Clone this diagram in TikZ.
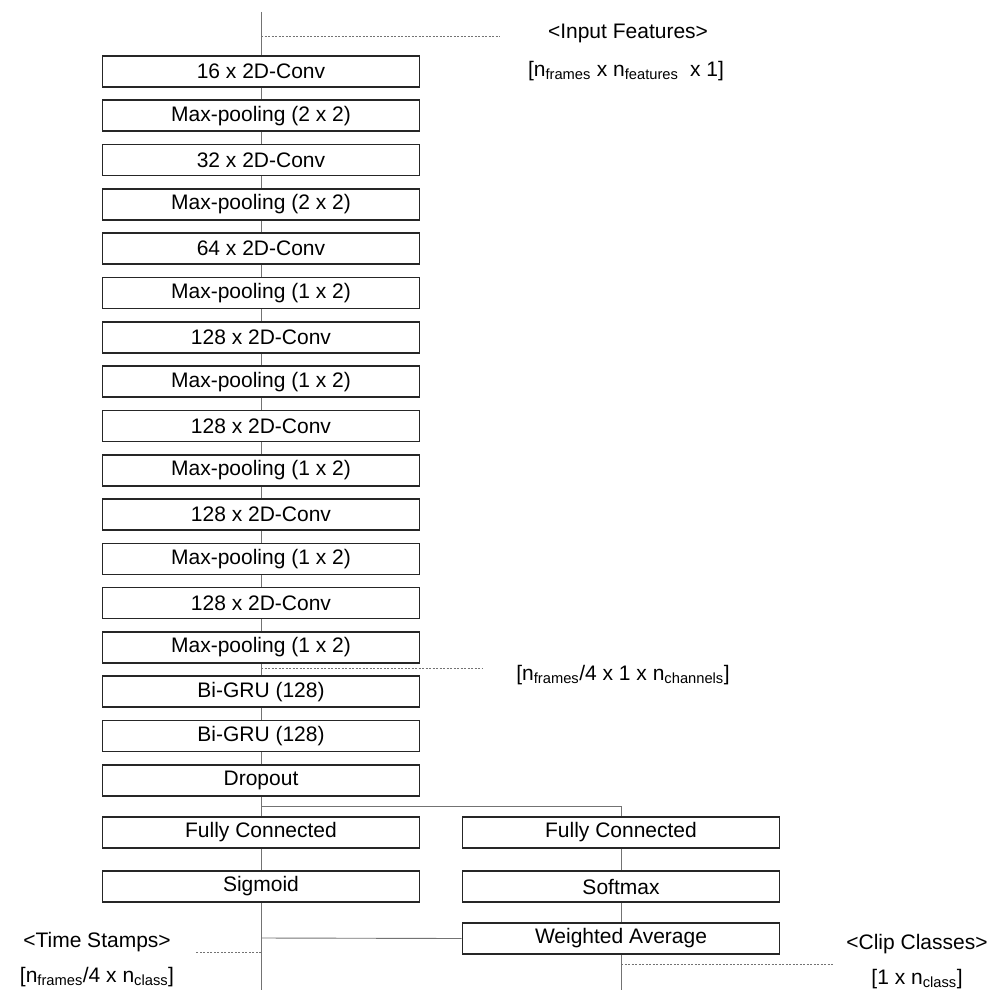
\documentclass[tikz,border=0pt]{standalone}
\usepackage{fontspec}
\setmainfont{Liberation Sans}
\begin{document}
\begin{tikzpicture}[x=1pt,y=-1pt,
  blk/.style={draw=black!85,line width=1.6pt,minimum width=317pt,minimum height=31pt,inner sep=0pt,font=\fontsize{21}{24}\selectfont,fill=white},
  conn/.style={draw=black!55,line width=0.9pt},
  dsh/.style={draw=black!55,line width=0.9pt,dash pattern=on 2pt off 1.5pt},
  lbl/.style={font=\fontsize{21}{24}\selectfont,inner sep=0pt,align=center}]
\useasboundingbox (0,0) rectangle (1008,1003);
\coordinate (top) at (261,12);
\coordinate (lbot) at (261,990);
\coordinate (rbot) at (621,990);
\draw[conn] (top) -- (lbot);
\foreach \t [count=\i from 0] in {16 x 2D-Conv,Max-pooling (2 x 2),32 x 2D-Conv,Max-pooling (2 x 2),64 x 2D-Conv,Max-pooling (1 x 2),128 x 2D-Conv,Max-pooling (1 x 2),128 x 2D-Conv,Max-pooling (1 x 2),128 x 2D-Conv,Max-pooling (1 x 2),128 x 2D-Conv,Max-pooling (1 x 2),Bi-GRU (128),Bi-GRU (128),Dropout}
  \node[blk] (b\i) at (261,{71.5+44.3*\i}) {\t};
\node[blk] (fcl) at (261,832.5) {Fully Connected};
\node[blk] (sig) at (261,886.5) {Sigmoid};
\node[blk] (fcr) at (621,832.5) {Fully Connected};
\node[blk] (soft) at (621,886.5) {Softmax};
\node[blk] (wa) at (621,938.5) {Weighted Average};
\coordinate (split) at (261,806);
\draw[conn] (split) -| (fcr.north);
\draw[conn] (fcr) -- (soft);
\draw[conn] (soft) -- (wa);
\draw[conn] (wa.south) -- (rbot);
\draw[conn] (261,938) -- (wa.west);
% annotations
\node[lbl] (inf) at (628,33) {<Input Features>};
\node[lbl] (ins) at (626,71) {[n\textsubscript{frames} x n\textsubscript{features}\ \ x 1]};
\coordinate (d1) at (261,36);
\draw[dsh] (d1) -- (500,36);
\node[lbl] (ch) at (623,675) {[n\textsubscript{frames}/4 x 1 x n\textsubscript{channels}]};
\coordinate (d2) at (261,668);
\draw[dsh] (d2) -- (482,668);
\node[lbl] (ts) at (97,942) {<Time Stamps>};
\node[lbl] (ts2) at (97,977) {[n\textsubscript{frames}/4 x n\textsubscript{class}]};
\coordinate (d3) at (261,952);
\draw[dsh] (d3) -- (195,952);
\node[lbl] (cc) at (917,944) {<Clip Classes>};
\node[lbl] (cc2) at (917,979) {[1 x n\textsubscript{class}]};
\coordinate (d4) at (621,964);
\draw[dsh] (d4) -- (833,964);
\end{tikzpicture}
\end{document}
